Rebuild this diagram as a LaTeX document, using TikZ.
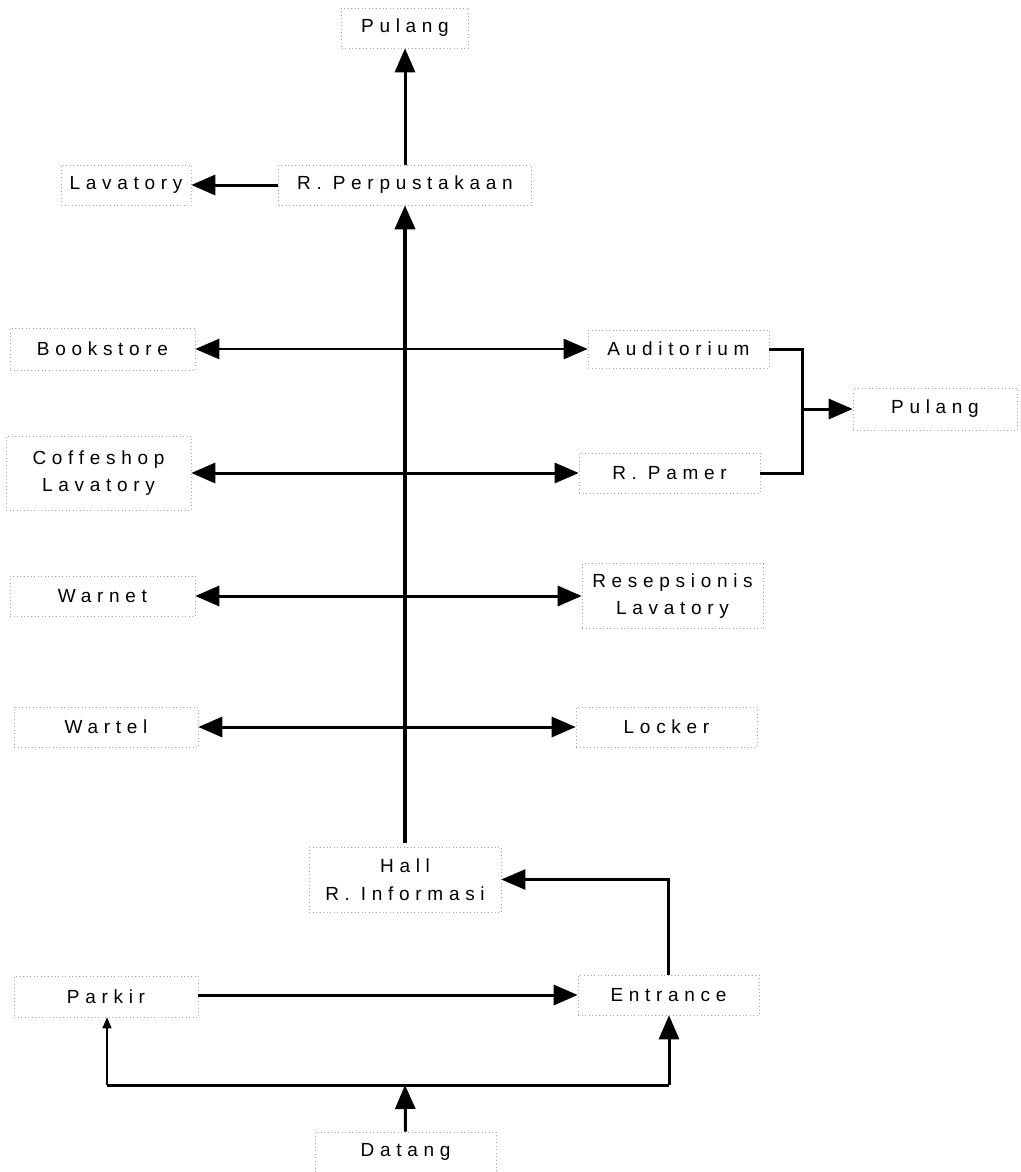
\documentclass[tikz,border=0pt]{standalone}
\usepackage{fontspec}
\newfontfamily\lblfont{Liberation Sans}[LetterSpace=30]
\usetikzlibrary{arrows.meta}
\tikzset{
  room/.style={draw=black!35, dash pattern=on 1pt off 2.5pt, line width=0.6pt,
    inner sep=0pt, align=center,
    font=\lblfont\fontsize{19}{27.5}\selectfont},
  big/.style={line width=3pt, -{Triangle[length=24pt,width=20pt]}},
  bigboth/.style={line width=3pt, {Triangle[length=24pt,width=20pt]}-{Triangle[length=24pt,width=20pt]}},
  plain/.style={line width=3pt},
  thinarr/.style={line width=1.2pt, -{Triangle[length=11pt,width=9pt]}}
}
\begin{document}
\begin{tikzpicture}[x=1pt,y=-1pt]
\useasboundingbox (0,0) rectangle (1020,1172);
% nodes
\node[room, minimum width=127pt, minimum height=40pt] (pulangT) at (405,28) {Pulang};
\node[room, minimum width=130pt, minimum height=40pt] (lav) at (126,185) {Lavatory};
\node[room, minimum width=253pt, minimum height=40pt] (perp) at (405,185) {R. Perpustakaan};
\node[room, minimum width=185pt, minimum height=42pt] (book) at (102.5,349) {Bookstore};
\node[room, minimum width=181pt, minimum height=38pt] (aud) at (678.5,349) {Auditorium};
\node[room, minimum width=164pt, minimum height=42pt] (pulangR) at (935,409) {Pulang};
\node[room, minimum width=185pt, minimum height=74pt] (coffee) at (98.5,473) {Coffeshop\\Lavatory};
\node[room, minimum width=181pt, minimum height=40pt] (pamer) at (669.5,473) {R. Pamer};
\node[room, minimum width=185pt, minimum height=40pt] (warnet) at (102.5,596) {Warnet};
\node[room, minimum width=181pt, minimum height=65pt] (resep) at (672.5,596) {Resepsionis\\Lavatory};
\node[room, minimum width=184pt, minimum height=40pt] (wartel) at (106,727) {Wartel};
\node[room, minimum width=181pt, minimum height=40pt] (locker) at (666.5,727) {Locker};
\node[room, minimum width=192pt, minimum height=65pt] (hall) at (405,879.5) {Hall\\R. Informasi};
\node[room, minimum width=184pt, minimum height=41pt] (parkir) at (106,996.5) {Parkir};
\node[room, minimum width=181pt, minimum height=40pt] (entrance) at (668.5,995) {Entrance};
\node[room, minimum width=181pt, minimum height=40pt] (datang) at (405.5,1152) {Datang};
% helper coordinates
\coordinate (bx) at (802,409);
\coordinate (bl) at (107,1085);
\coordinate (bm) at (405,1085);
\coordinate (br) at (669,1085);
\coordinate (htop) at (405,843);
% connectors
\draw[big] (perp.north) -- (pulangT.south);
\draw[big] (perp.west) -- (lav.east);
\draw[big, line width=4pt] (htop) -- (perp.south);
\draw[bigboth, line width=2.4pt] (book.east) -- (aud.west);
\draw[bigboth] (coffee.east) -- (coffee.east -| pamer.west);
\draw[bigboth] (warnet.east) -- (warnet.east -| resep.west);
\draw[bigboth] (wartel.east) -- (locker.west);
\draw[plain] (aud.east) -| (bx) |- (pamer.east);
\draw[big] (bx) -- (pulangR.west);
\draw[big] (parkir.east |- entrance.west) -- (entrance.west);
\draw[big, line width=2.4pt] (entrance.north) |- (hall.east);
\draw[big] (datang.north) -- (bm);
\draw[plain] (bl) -- (br);
\draw[thinarr] (bl) -- (bl |- parkir.south);
\draw[big] (br) -- (br |- entrance.south);
\end{tikzpicture}
\end{document}
